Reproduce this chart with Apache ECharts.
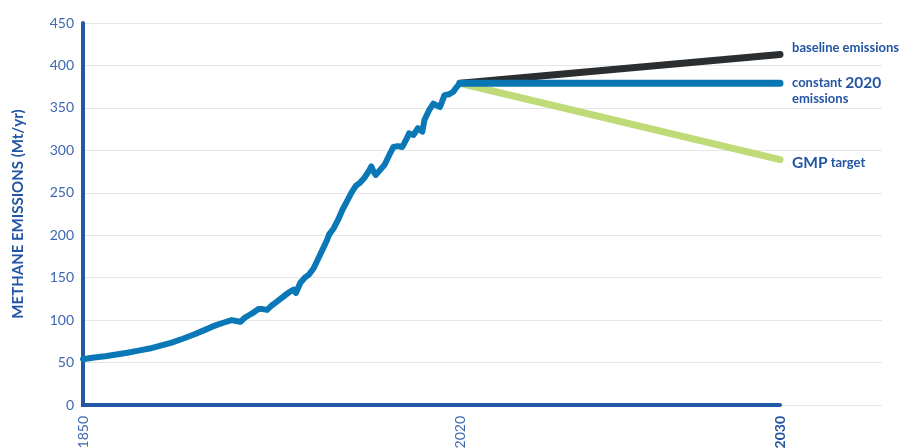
<!DOCTYPE html>
<html><head><meta charset="utf-8">
<script src="https://cdn.jsdelivr.net/npm/echarts@6/dist/echarts.min.js"></script>
<style>html,body{margin:0;padding:0;background:#fff}#c{width:900px;height:448px}</style>
</head><body><div id="c"></div>
<script>
// ---- data ----
const histYears = [1850,1855,1860,1865,1870,1875,1880,1885,1890,1895,1900,1905,1908,1911,1914,1917,1919,1921,1923,1925,1927,1929,1931,1933,1935,1937,1939,1941,1943,1945,1946,1948,1950,1952,1954,1956,1958,1960,1961,1963,1965,1967,1969,1971,1972,1973,1975,1977,1979,1980,1981,1982,1984,1986,1988,1990,1992,1994,1996,1997,1999,2001,2003,2004,2006,2008,2010,2011,2013,2015,2017,2018,2019,2020];
const histValues = [54,56,57.5,59.5,61.5,64,66.5,70,73.5,78,83,88.5,92,95,97.5,100,99,98,103,106,109,113,113,112,117,121,125,129,133,136,132,144,150,154,161,172,183,194,201,208,218,230,240,250,254,258,262,268,276,281,275,271,277,283,294,304,305,304,314,320,318,326,322,336,347,355,352,351,365,366,369,373,376,379];
const projYears = [2020, 2030];
const baselineValues = [379, 413];
const constantValues = [379, 379];
const gmpValues = [379, 289];
const histTickLabels = [1850, 2020];
const projTickLabels = [2030];
const yMin = 0, yMax = 450, yStep = 50;
const yTitle = 'METHANE EMISSIONS (Mt/yr)';

// ---- chart ----
const AX = '#2358a6';
const TXT = '#3d68b0';
const LBL = '#2355a4';
const FONT = 'Lato, "Open Sans", sans-serif';
const pairs = (xs, ys) => xs.map((x, i) => [x, ys[i]]);
const plain = v => String(v);

const chart = echarts.init(document.getElementById('c'), null, {renderer: 'canvas'});
const endLbl = (fmt, off) => ({
  show: true, distance: 12, offset: off, align: 'left', verticalAlign: 'middle',
  formatter: fmt, color: LBL, fontFamily: FONT, fontWeight: 'bold', fontSize: 13, lineHeight: 16,
  rich: {
    s: {fontSize: 13, fontWeight: 'bold', color: LBL, fontFamily: FONT, lineHeight: 16},
    b: {fontSize: 15.5, fontWeight: 'bold', color: LBL, fontFamily: FONT, lineHeight: 16}
  }
});
const G = {top: 23, bottom: 43, containLabel: false, outerBoundsMode: 'none'};

chart.setOption({
  animation: false,
  grid: [
    Object.assign({left: 83, width: 377}, G),
    Object.assign({left: 460, right: 120}, G),
    Object.assign({left: 83, right: 18}, G)
  ],
  xAxis: [
    {gridIndex: 0, type: 'value', min: 1850, max: 2020,
     axisLine: {show: true, lineStyle: {color: AX, width: 4, cap: 'square'}},
     axisTick: {show: false}, splitLine: {show: false},
     axisLabel: {customValues: histTickLabels, formatter: plain, rotate: 90, margin: 11, color: TXT, fontSize: 14, fontFamily: FONT,
       showMinLabel: true, showMaxLabel: true}},
    {gridIndex: 1, type: 'value', min: 2020, max: 2030,
     axisLine: {show: true, lineStyle: {color: AX, width: 4}},
     axisTick: {show: false}, splitLine: {show: false},
     axisLabel: {customValues: projTickLabels, formatter: plain, rotate: 90, margin: 11, color: LBL, fontWeight: 'bold', fontSize: 14, fontFamily: FONT}},
    {gridIndex: 2, type: 'value', min: 0, max: 1, show: false}
  ],
  yAxis: [
    {gridIndex: 0, type: 'value', min: yMin, max: yMax, interval: yStep,
     name: yTitle, nameLocation: 'middle', nameGap: 57, nameRotate: 90,
     nameTextStyle: {color: LBL, fontWeight: 'bold', fontSize: 15, fontFamily: FONT},
     axisLine: {show: true, lineStyle: {color: AX, width: 4}},
     axisTick: {show: false}, splitLine: {show: false},
     axisLabel: {margin: 9, color: TXT, fontSize: 14, fontFamily: FONT}},
    {gridIndex: 1, type: 'value', min: yMin, max: yMax, interval: yStep, show: false, splitLine: {show: false}},
    {gridIndex: 2, type: 'value', min: yMin, max: yMax, interval: yStep,
     axisLine: {show: false}, axisTick: {show: false}, axisLabel: {show: false},
     splitLine: {show: true, lineStyle: {color: '#e6e6e6', width: 1}}}
  ],
  series: [
    {type: 'line', xAxisIndex: 1, yAxisIndex: 1, data: pairs(projYears, baselineValues), symbol: 'none',
     lineStyle: {color: '#2b2e30', width: 7, cap: 'round'}, z: 3,
     endLabel: endLbl('{s|baseline emissions}', [0, -7])},
    {type: 'line', xAxisIndex: 1, yAxisIndex: 1, data: pairs(projYears, gmpValues), symbol: 'none',
     lineStyle: {color: '#bedb78', width: 7, cap: 'round'}, z: 3,
     endLabel: endLbl('{b|GMP} {s|target}', [0, 3])},
    {type: 'line', xAxisIndex: 1, yAxisIndex: 1, data: pairs(projYears, constantValues), symbol: 'none',
     lineStyle: {color: '#0a77b5', width: 7, cap: 'round'}, z: 4,
     endLabel: endLbl('{s|constant} {b|2020}\n{s|emissions}', [0, 8])},
    {type: 'line', xAxisIndex: 0, yAxisIndex: 0, data: pairs(histYears, histValues), symbol: 'none',
     lineStyle: {color: '#0a78b7', width: 6, join: 'round', cap: 'round'}, z: 5}
  ]
});
</script></body></html>
